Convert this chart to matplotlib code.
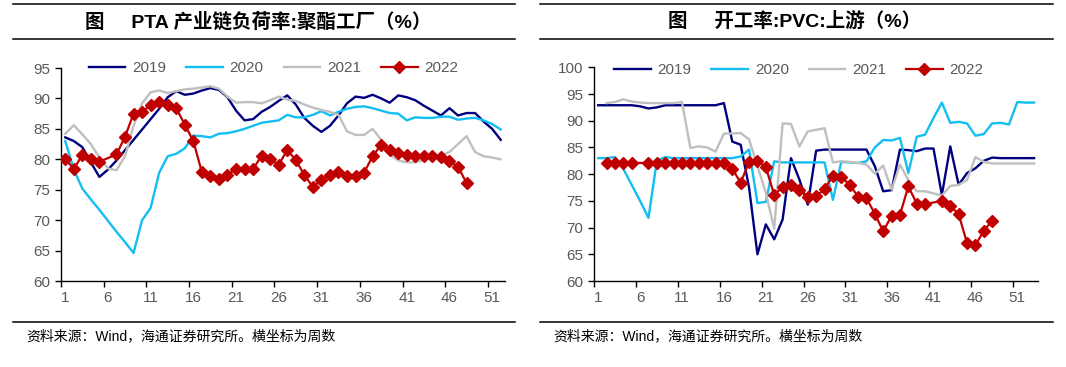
import matplotlib
matplotlib.use('Agg')
import matplotlib.pyplot as plt
from matplotlib.lines import Line2D

plt.rcParams['font.family'] = ['Liberation Sans', 'Noto Sans CJK SC']

# ---- left: PTA chain load, polyester plants (weeks 1..52)
pta_weeks = list(range(1, 53))
pta_2019 = [83.6, 83.0, 82.0, 79.5, 77.1, 78.3, 79.8, 81.5, 83.2, 84.9,
            86.6, 88.3, 90.2, 91.2, 90.6, 90.8, 91.3, 91.7, 91.4, 90.2,
            88.0, 86.4, 86.6, 87.8, 88.6, 89.6, 90.5, 89.0, 86.8, 85.5,
            84.5, 85.5, 87.2, 89.2, 90.3, 90.1, 90.6, 90.0, 89.3, 90.5,
            90.2, 89.7, 88.8, 88.0, 87.2, 88.4, 87.2, 87.6, 87.6, 86.2,
            85.0, 83.2]
pta_2020 = [83.0, 78.3, 75.2, 73.4, 71.7, 69.9, 68.1, 66.4, 64.6, 70.0,
            72.0, 77.8, 80.5, 80.9, 81.8, 83.9, 83.8, 83.6, 84.2, 84.3,
            84.6, 85.0, 85.5, 86.0, 86.2, 86.4, 87.3, 86.9, 86.9, 87.3,
            87.9, 87.2, 87.8, 88.3, 88.6, 88.7, 88.4, 88.0, 87.6, 87.5,
            86.4, 86.9, 86.8, 86.8, 87.0, 87.0, 86.5, 86.7, 86.8, 86.4,
            85.8, 84.9]
pta_2021 = [84.2, 85.6, 84.1, 82.5, 80.3, 78.5, 78.2, 80.5, 85.5, 89.2,
            91.0, 91.3, 90.9, 91.2, 91.5, 91.6, 91.8, 92.0, 91.6, 90.3,
            89.3, 89.4, 89.4, 89.2, 89.7, 90.3, 89.8, 89.6, 89.0, 88.5,
            88.1, 87.8, 87.3, 84.6, 84.0, 84.0, 85.0, 83.2, 80.8, 79.8,
            79.5, 79.5, 79.9, 80.3, 80.6, 81.2, 82.5, 83.8, 81.2, 80.5,
            80.3, 80.0]
pta_2022_weeks = [1, 2, 3, 4, 5] + list(range(7, 49))
pta_2022 = [80.1, 78.4, 80.7, 80.1, 79.6,
            80.8, 83.7, 87.5, 87.8, 88.9, 89.4, 89.0, 88.4, 85.7, 83.0,
            77.9, 77.3, 76.8, 77.5, 78.4, 78.4, 78.4, 80.6, 80.0, 79.1,
            81.5, 79.9, 77.4, 75.5, 76.6, 77.5, 77.9, 77.3, 77.3, 77.8,
            80.5, 82.4, 81.6, 81.0, 80.7, 80.6, 80.6, 80.6, 80.4, 79.7,
            78.8, 76.1]

# ---- right: PVC upstream operating rate (weeks 1..53)
pvc_weeks = list(range(1, 54))
pvc_2019 = [92.9, 92.9, 92.9, 92.9, 92.9, 92.7, 92.3, 92.5, 92.9, 92.9,
            92.9, 92.9, 92.9, 92.9, 92.9, 93.3, 86.1, 85.5, 77.5, 65.0,
            70.6, 67.8, 71.5, 83.0, 79.0, 74.3, 84.4, 84.6, 84.6, 84.6,
            84.6, 84.6, 84.6, 81.5, 76.8, 77.0, 84.6, 84.5, 84.3, 84.8,
            84.8, 76.1, 85.2, 78.0, 80.2, 81.1, 82.5, 83.1, 83.0, 83.0,
            83.0, 83.0, 83.0]
pvc_2020 = [83.0, 83.0, 83.2, 81.0, 78.0, 75.0, 71.8, 82.5, 83.2, 83.0,
            83.0, 83.0, 83.0, 83.0, 83.0, 83.0, 83.0, 83.3, 84.6, 74.6,
            74.8, 82.4, 82.2, 82.2, 82.2, 82.2, 82.2, 82.2, 75.2, 82.3,
            82.2, 82.1, 82.4, 85.0, 86.4, 86.3, 86.8, 80.2, 87.0, 87.4,
            90.5, 93.4, 89.6, 89.8, 89.5, 87.2, 87.5, 89.5, 89.6, 89.3,
            93.5, 93.4, 93.4]
pvc_2021_weeks = list(range(2, 54))
pvc_2021 = [93.3, 93.5, 94.0, 93.6, 93.4, 93.3, 93.3, 93.3, 93.3, 93.5,
            84.9, 85.2, 85.0, 84.2, 87.6, 87.6, 87.7, 86.5, 81.5, 76.5,
            69.8, 89.5, 89.4, 85.2, 88.0, 88.3, 88.6, 82.2, 82.4, 82.3,
            82.1, 81.8, 80.1, 81.6, 77.1, 81.8, 78.9, 76.8, 76.8, 76.4,
            76.0, 77.8, 78.0, 78.9, 83.2, 82.3, 82.0, 82.0, 82.0, 82.0,
            82.0, 82.0]
pvc_2022_weeks = [2, 3, 4, 5] + list(range(7, 41)) + list(range(42, 49))
pvc_2022 = [82.1, 82.1, 82.1, 82.1,
            82.1, 82.1, 82.1, 82.1, 82.1, 82.1, 82.1, 82.1, 82.1, 82.1,
            81.0, 78.4, 82.3, 82.5, 81.3, 76.1, 77.6, 78.0, 77.1, 75.8,
            75.9, 77.2, 79.7, 79.5, 78.0, 75.8, 75.5, 72.6, 69.3, 72.2,
            72.4, 77.7, 74.5, 74.4,
            75.0, 74.1, 72.5, 67.1, 66.7, 69.4, 71.3]

week_ticks = [1, 6, 11, 16, 21, 26, 31, 36, 41, 46, 51]
years = ['2019', '2020', '2021', '2022']
colors = ['#000080', '#12BEF2', '#BFBFBF', '#C00000']
titles = ['图     PTA 产业链负荷率:聚酯工厂（%）', '图     开工率:PVC:上游（%）']
source = '资料来源：Wind，海通证券研究所。横坐标为周数'
label_color = '#595959'


def draw_panel(ax, series, n_weeks, ylim, legend_xy):
	for (x, y), year, c in zip(series, years, colors):
		if year == '2022':
			ax.plot(x, y, color=c, lw=1.6, marker='D', ms=6.5, label=year, zorder=5)
		else:
			ax.plot(x, y, color=c, lw=1.7, label=year, solid_joinstyle='round')

	ax.set_xlim(0.5, n_weeks + 0.5)
	ax.set_ylim(*ylim)
	ax.set_yticks(range(ylim[0], ylim[1] + 1, 5))
	ax.set_xticks(week_ticks)
	ax.set_xticks([w - 0.5 for w in week_ticks], minor=True)
	ax.tick_params(axis='x', which='major', length=0, pad=7, labelsize=11, labelcolor=label_color)
	ax.tick_params(axis='x', which='minor', length=4, width=1)
	ax.tick_params(axis='y', length=4, width=1, pad=3.5, labelsize=11, labelcolor=label_color)
	for side in ['top', 'right']:
		ax.spines[side].set_visible(False)
	for side in ['left', 'bottom']:
		ax.spines[side].set_color('black')
		ax.spines[side].set_linewidth(1)

	leg = ax.legend(loc='center', bbox_to_anchor=legend_xy, ncol=4, frameon=False,
		fontsize=11, handlelength=2.4, handletextpad=0.45, columnspacing=1.3,
		numpoints=1, borderaxespad=0)
	for t in leg.get_texts():
		t.set_color(label_color)


fig = plt.figure(figsize=(10.66, 3.67), dpi=100)
ax1 = fig.add_axes([0.0572, 0.2343, 0.4165, 0.5804])
ax2 = fig.add_axes([0.5572, 0.2343, 0.4168, 0.5823])

draw_panel(ax1, [(pta_weeks, pta_2019), (pta_weeks, pta_2020),
		(pta_weeks, pta_2021), (pta_2022_weeks, pta_2022)],
	52, (60, 95), (0.479, 1.0))
draw_panel(ax2, [(pvc_weeks, pvc_2019), (pvc_weeks, pvc_2020),
		(pvc_2021_weeks, pvc_2021), (pvc_2022_weeks, pvc_2022)],
	53, (60, 100), (0.461, 0.987))

# frame rules, titles and sources of the two panels
for x0, x1, title, tx in [(0.0122, 0.4831, titles[0], 0.242),
		(0.5066, 0.9878, titles[1], 0.745)]:
	for y in [0.988, 0.893, 0.1218]:
		fig.add_artist(Line2D([x0, x1], [y, y], transform=fig.transFigure,
			color='black', lw=1.1))
	fig.text(tx, 0.941, title, ha='center', va='center', fontsize=14, fontweight='bold')
	fig.text(x0 + 0.0122, 0.083, source, ha='left', va='center', fontsize=10)

fig.savefig('out.png', dpi=100)
